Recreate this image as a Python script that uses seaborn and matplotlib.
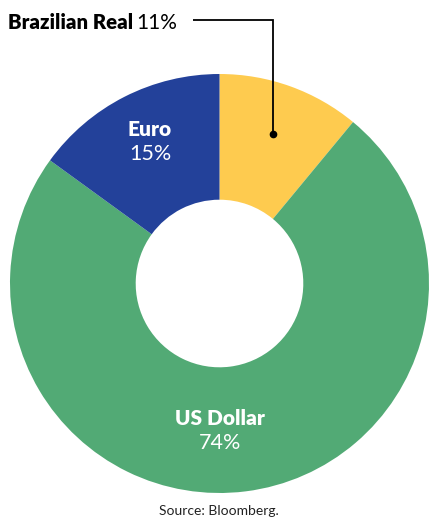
import numpy as np
import matplotlib
matplotlib.use('Agg')
import matplotlib.pyplot as plt
import seaborn as sns

# chart data
currencies = ['Brazilian Real', 'US Dollar', 'Euro']
shares = [11, 74, 15]
colors = ['#FECB4F', '#52AA75', '#23419A']

sns.set_theme(style='white')
plt.rcParams['font.family'] = ['Lato', 'DejaVu Sans']

W, H = 429, 518
fig = plt.figure(figsize=(W / 100, H / 100), dpi=100)
ax = fig.add_axes([0, 0, 1, 1])

# pixel geometry of the donut
cx, cy, R = 219.5, 283.5, 209.5

ax.pie(shares, colors=colors, startangle=90, counterclock=False,
       radius=1, wedgeprops=dict(width=0.6, linewidth=0))
ax.set_aspect('auto')
ax.set_xlim(-cx / R, (W - cx) / R)
ax.set_ylim((cy - H) / R, cy / R)
ax.axis('off')

# leader line for the small slice: dot at the middle angle of the wedge
mid = np.deg2rad(90 - shares[0] / sum(shares) * 360 / 2)
dx, dy = 0.76 * np.cos(mid), 0.76 * np.sin(mid)
top_y = (cy - 20) / R
left_x = (193 - cx) / R
ax.plot([dx, dx, left_x], [dy, top_y, top_y], color='black', lw=1.3,
        solid_capstyle='butt', solid_joinstyle='miter')
ax.plot(dx, dy, 'o', color='black', ms=4.5)

def px(x, y):
    return x / W, 1 - y / H

# Brazilian Real label (bold name + regular value)
t = fig.text(*px(8, 29), currencies[0], fontsize=14.7, fontweight='heavy',
             color='black', ha='left', va='baseline')
fig.canvas.draw()
bb = t.get_window_extent()
fig.text((bb.x1 + 3) / W, 1 - 29 / H, f'{shares[0]}%', fontsize=15,
         color='black', ha='left', va='baseline')

# Euro label
fig.text(*px(150, 136), currencies[2], fontsize=15, fontweight='heavy',
         color='white', ha='center', va='baseline')
fig.text(*px(150, 160), f'{shares[2]}%', fontsize=15.5, color='white',
         ha='center', va='baseline')

# US Dollar label
fig.text(*px(220, 425), currencies[1], fontsize=15, fontweight='heavy',
         color='white', ha='center', va='baseline')
fig.text(*px(220, 449), f'{shares[1]}%', fontsize=15.5, color='white',
         ha='center', va='baseline')

fig.text(*px(219, 515), 'Source: Bloomberg.', fontsize=10, color='#222222',
         ha='center', va='baseline')

fig.savefig('out.png', dpi=100)
